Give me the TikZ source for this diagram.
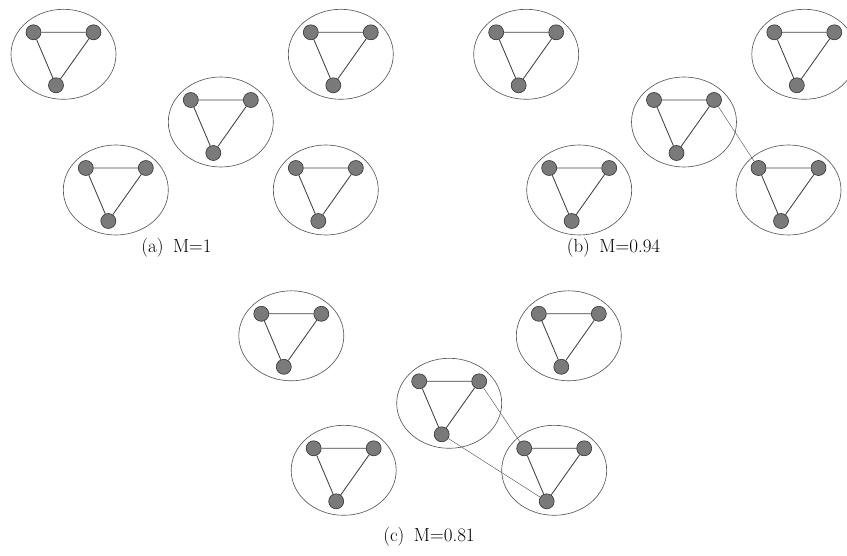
\documentclass[tikz,border=0pt]{standalone}
\begin{document}
\begin{tikzpicture}[x=1pt, y=-1pt,
    vertex/.style={circle, draw=black!80, fill=black!52, line width=0.6pt, minimum size=15pt, inner sep=0pt},
    group/.style={draw=black!65, line width=0.65pt},
    link/.style={draw=black!75, line width=0.85pt},
    bridge/.style={draw=black!70, line width=0.4pt},
    caption/.style={font=\fontsize{19}{22}\selectfont}]
  \useasboundingbox (0,0) rectangle (847,556);
  % clusters: name / centre x / centre y
  \foreach \g/\cx/\cy in {a1/63.5/54.3, a2/220.8/122, a3/115.8/190, a4/340.8/54.3, a5/325.8/190,
      b1/526.2/54.3, b2/684/122, b3/579.2/190, b4/804.3/54.3, b5/788.5/190,
      c1/291.3/335.8, c2/449.2/403.3, c3/343.7/470.3, c4/568.8/335.8, c5/554.2/470.3}{
    \draw[group] (\cx,\cy) ellipse [x radius=52.5pt, y radius=45pt];
    \node[vertex] (\g l) at (\cx-30,\cy-22) {};
    \node[vertex] (\g r) at (\cx+30,\cy-22) {};
    \node[vertex] (\g b) at (\cx-7.5,\cy+31) {};
    \draw[link] (\g l) -- (\g r) -- (\g b) -- (\g l);
  }
  % links between clusters
  \draw[bridge] (b2r) -- (b5l);
  \draw[bridge] (c2r) -- (c5l);
  \draw[bridge] (c2b) -- (c5b);
  % captions
  \node[caption] (capa) at (176.5,248) {(a)\enspace M=1};
  \node[caption] (capb) at (613.5,248) {(b)\enspace M=0.94};
  \node[caption] (capc) at (429,537) {(c)\enspace M=0.81};
\end{tikzpicture}
\end{document}
